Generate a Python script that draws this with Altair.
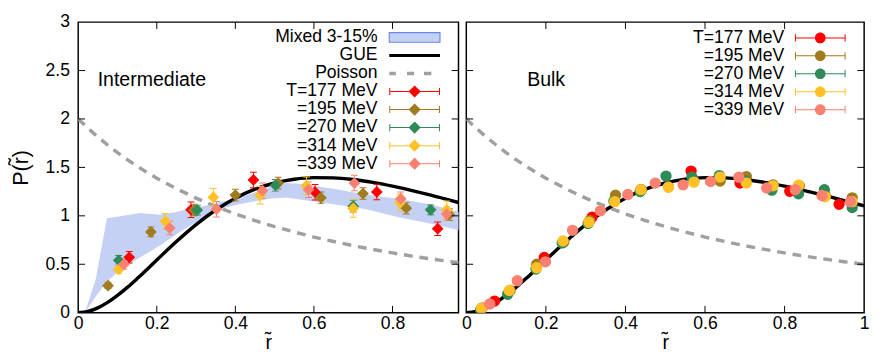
import altair as alt
import pandas as pd

# ---------------- values ----------------
curve_x = [0, 0.025, 0.05, 0.075, 0.1, 0.125, 0.15, 0.175, 0.2, 0.25, 0.3, 0.35, 0.4,
           0.45, 0.5, 0.55, 0.6, 0.65, 0.7, 0.75, 0.8, 0.85, 0.9, 0.95, 1.0]
gue_y = [0, 0.013, 0.050, 0.106, 0.178, 0.261, 0.352, 0.447, 0.544, 0.735, 0.910, 1.060, 1.182,
         1.275, 1.339, 1.378, 1.394, 1.392, 1.375, 1.345, 1.306, 1.261, 1.211, 1.157, 1.103]
poisson_y = [2.0, 1.904, 1.814, 1.731, 1.653, 1.580, 1.512, 1.449, 1.389, 1.280, 1.183, 1.097, 1.020,
             0.951, 0.889, 0.833, 0.781, 0.735, 0.692, 0.653, 0.617, 0.584, 0.554, 0.526, 0.500]

band_x = [0.017, 0.045, 0.073, 0.1, 0.157, 0.207, 0.25, 0.29, 0.33, 0.37, 0.41, 0.45, 0.49,
          0.53, 0.56, 0.65, 0.73, 0.81, 0.895, 0.97]
band_lo = [0.0, 0.17, 0.32, 0.42, 0.57, 0.69, 0.81, 0.91, 1.01, 1.08, 1.12, 1.15, 1.18,
           1.19, 1.17, 1.12, 1.07, 0.99, 0.92, 0.85]
band_hi = [0.0, 0.35, 0.975, 0.99, 1.03, 1.01, 1.04, 1.08, 1.11, 1.15, 1.19, 1.24, 1.30,
           1.34, 1.33, 1.28, 1.22, 1.18, 1.12, 1.04]

series_names = ["T=177 MeV", "=195 MeV", "=270 MeV", "=314 MeV", "=339 MeV"]
series_colors = ["#ff0000", "#a07b1f", "#2e8b57", "#ffc125", "#fa8072"]

# Intermediate (diamonds)
int_x = [
    [0.130, 0.287, 0.446, 0.603, 0.760, 0.915],
    [0.076, 0.185, 0.295, 0.400, 0.509, 0.618, 0.725, 0.835, 0.945],
    [0.103, 0.303, 0.502, 0.700, 0.897],
    [0.103, 0.222, 0.344, 0.463, 0.581, 0.700, 0.819, 0.938],
    [0.116, 0.233, 0.352, 0.469, 0.586, 0.703, 0.821, 0.938],
]
int_y = [
    [0.572, 1.062, 1.371, 1.244, 1.247, 0.867],
    [0.279, 0.834, 1.060, 1.214, 1.338, 1.186, 1.230, 1.079, 1.012],
    [0.541, 1.059, 1.315, 1.100, 1.062],
    [0.447, 0.945, 1.193, 1.213, 1.311, 1.076, 1.136, 1.062],
    [0.498, 0.874, 1.069, 1.260, 1.270, 1.338, 1.176, 1.018],
]
int_err = [
    [0.06, 0.08, 0.08, 0.08, 0.08, 0.07],
    [0.03, 0.05, 0.06, 0.06, 0.06, 0.06, 0.06, 0.06, 0.06],
    [0.05, 0.05, 0.06, 0.06, 0.05],
    [0.04, 0.08, 0.09, 0.09, 0.09, 0.09, 0.09, 0.09],
    [0.05, 0.07, 0.08, 0.08, 0.08, 0.08, 0.07, 0.06],
]

# Bulk (circles)
bulk_x = [
    [0.071, 0.196, 0.316, 0.439, 0.565, 0.688, 0.813, 0.937],
    [0.040, 0.110, 0.177, 0.245, 0.310, 0.375, 0.440, 0.508, 0.572, 0.638, 0.704, 0.771, 0.837, 0.902, 0.970],
    [0.036, 0.104, 0.175, 0.241, 0.306, 0.371, 0.437, 0.502, 0.567, 0.636, 0.700, 0.768, 0.835, 0.900, 0.970],
    [0.038, 0.108, 0.177, 0.243, 0.308, 0.373, 0.439, 0.508, 0.572, 0.638, 0.704, 0.771, 0.835, 0.902, 0.970],
    [0.059, 0.128, 0.199, 0.267, 0.337, 0.406, 0.475, 0.545, 0.614, 0.685, 0.755, 0.827, 0.894, 0.965],
]
bulk_y = [
    [0.12, 0.57, 0.985, 1.27, 1.462, 1.338, 1.254, 1.119],
    [0.05, 0.23, 0.50, 0.73, 0.95, 1.213, 1.27, 1.30, 1.36, 1.36, 1.405, 1.32, 1.31, 1.21, 1.186],
    [0.03, 0.19, 0.45, 0.72, 0.92, 1.15, 1.25, 1.41, 1.40, 1.415, 1.36, 1.265, 1.227, 1.27, 1.086],
    [0.044, 0.229, 0.464, 0.74, 0.934, 1.146, 1.27, 1.294, 1.348, 1.40, 1.338, 1.31, 1.317, 1.197, 1.146],
    [0.09, 0.33, 0.525, 0.85, 1.052, 1.22, 1.338, 1.32, 1.355, 1.398, 1.287, 1.27, 1.21, 1.146],
]
bulk_err = 0.02

x_ticks_left = [0, 0.2, 0.4, 0.6, 0.8]
x_ticks_right = [0, 0.2, 0.4, 0.6, 0.8, 1]
y_ticks = [0, 0.5, 1, 1.5, 2, 2.5, 3]

legend_left = ["Mixed 3-15%", "GUE", "Poisson"] + series_names
legend_left_colors = ["#c4d0f4", "#000000", "#a0a0a0"] + series_colors
BAND_EDGE = "#6a88e6"

# legend key glyphs (custom symbol paths in the unit square)
BAR = "M-1,-0.02L1,-0.02L1,0.02L-1,0.02Z"
CAPS = "M-1,-0.14L-0.96,-0.14L-0.96,0.14L-1,0.14Z M0.96,-0.14L1,-0.14L1,0.14L0.96,0.14Z"
DIAMOND = "M0,-0.24L0.24,0L0,0.24L-0.24,0Z"
CIRCLE = "M0.21,0A0.21,0.21,0,1,1,-0.21,0A0.21,0.21,0,1,1,0.21,0Z"
glyph_mixed = "M-1,-0.19L1,-0.19L1,0.19L-1,0.19Z"
glyph_gue = "M-1,-0.06L1,-0.06L1,0.06L-1,0.06Z"
glyph_poisson = ("M-1,-0.065L-0.74,-0.065L-0.74,0.065L-1,0.065Z "
                 "M-0.3,-0.065L-0.02,-0.065L-0.02,0.065L-0.3,0.065Z "
                 "M0.37,-0.065L0.66,-0.065L0.66,0.065L0.37,0.065Z")
glyph_err_diamond = BAR + " " + CAPS + " " + DIAMOND
glyph_err_circle = BAR + " " + CAPS + " " + CIRCLE

FONT = "Liberation Sans"
H = 298
W_LEFT, W_RIGHT = 390, 408
XMAX_LEFT = 0.968
SYM = 2704


def points_df(xs_list, ys_list, errs_list):
    rows = []
    for name, xs, ys, es in zip(series_names, xs_list, ys_list, errs_list):
        if not isinstance(es, list):
            es = [es] * len(xs)
        for x, y, e in zip(xs, ys, es):
            rows.append({"x": x, "y": y, "lo": y - e, "hi": y + e, "series": name})
    return pd.DataFrame(rows)


curves = pd.DataFrame({"x": curve_x, "gue": gue_y, "poisson": poisson_y})
band = pd.DataFrame({"x": band_x, "lo": band_lo, "hi": band_hi})


def panel(pts, shape, pt_size, width, xmax, xticks, show_y, label_text, label_x,
          legend_names, legend_colors, legend_glyphs, leg_text_px, leg_sym_px,
          leg_first_px, leg_step_px, with_band):
    xs = alt.Scale(domain=[0, xmax], nice=False, zero=False)
    ys = alt.Scale(domain=[0, 3], nice=False, zero=False)
    cs = alt.Scale(domain=legend_names, range=legend_colors)
    x_axis = alt.Axis(values=xticks, format="~g", title="r\u0303", ticks=False, domain=False,
                      grid=False, labelFlush=False, labelPadding=2, titlePadding=1,
                      labelFont=FONT, labelFontSize=18, titleFont=FONT, titleFontSize=20,
                      titleFontWeight="normal", labelColor="black", titleColor="black")
    if show_y:
        y_axis = alt.Axis(values=y_ticks, format="~g", title="P(r\u0303)", ticks=False,
                          domain=False, grid=False, labelFlush=False, labelPadding=9,
                          titlePadding=13, labelFont=FONT, labelFontSize=18, titleFont=FONT,
                          titleFontSize=22, titleFontWeight="normal", labelColor="black",
                          titleColor="black")
    else:
        y_axis = None

    def X(f):
        return alt.X(f, scale=xs, axis=x_axis)

    def Y(f):
        return alt.Y(f, scale=ys, axis=y_axis)

    def F():
        return alt.Fill("series:N", scale=cs, legend=None)

    layers = []
    base_c = alt.Chart(curves)

    if with_band:
        layers.append(alt.Chart(band).mark_area(color="#c4d0f4", opacity=1, clip=True).encode(
            x=X("x:Q"), y=Y("lo:Q"), y2="hi:Q"))
    layers.append(base_c.mark_line(color="#a0a0a0", strokeWidth=3.5, strokeDash=[9, 7],
                                   clip=True).encode(x=X("x:Q"), y=Y("poisson:Q")))
    layers.append(base_c.mark_line(color="black", strokeWidth=3.5, interpolate="monotone",
                                   clip=True).encode(x=X("x:Q"), y=Y("gue:Q")))

    # error bars
    layers.append(alt.Chart(pts).mark_rule(strokeWidth=1, clip=True).encode(
        x=X("x:Q"), y=Y("lo:Q"), y2="hi:Q",
        stroke=alt.Stroke("series:N", scale=cs, legend=None)))
    for end in ["lo", "hi"]:
        layers.append(alt.Chart(pts).mark_tick(orient="horizontal", size=7, thickness=1,
                                               opacity=1, clip=True).encode(
            x=X("x:Q"), y=Y(f"{end}:Q"), fill=F()))
    # points
    layers.append(alt.Chart(pts).mark_point(shape=shape, filled=True, size=pt_size,
                                            opacity=1, clip=True, strokeWidth=0).encode(
        x=X("x:Q"), y=Y("y:Q"), fill=F()))

    # inside tick marks (gnuplot style)
    ytd = pd.DataFrame({"v": [t for t in y_ticks if 0 < t < 3]})
    xtd = pd.DataFrame({"v": [t for t in xticks if 0 < t < xmax]})
    for a, b in [(0, 7), (width - 7, width)]:
        layers.append(alt.Chart(ytd).mark_rule(color="black", strokeWidth=1).encode(
            y=Y("v:Q"), x=alt.value(a), x2=alt.value(b)))
    for a, b in [(H, H - 7), (0, 7)]:
        layers.append(alt.Chart(xtd).mark_rule(color="black", strokeWidth=1).encode(
            x=X("v:Q"), y=alt.value(a), y2=alt.value(b)))

    # panel label
    lab = pd.DataFrame({"x": [label_x], "y": [2.336], "t": [label_text]})
    layers.append(alt.Chart(lab).mark_text(align="left", baseline="alphabetic", font=FONT,
                                           fontSize=20, color="black").encode(
        x=X("x:Q"), y=Y("y:Q"), text="t:N"))

    # key (legend): rows placed through the panel's y scale
    px_per_unit = H / 3.0
    key = pd.DataFrame({
        "series": legend_names,
        "ky": [3 - (leg_first_px + i * leg_step_px) / px_per_unit
               for i in range(len(legend_names))],
    })
    layers.append(alt.Chart(key).mark_text(align="right", baseline="middle", font=FONT,
                                           fontSize=18, color="black").encode(
        x=alt.value(leg_text_px), y=Y("ky:Q"), text="series:N"))
    layers.append(alt.Chart(key).mark_point(filled=True, size=SYM, opacity=1,
                                            strokeWidth=0).encode(
        x=alt.value(leg_sym_px), y=Y("ky:Q"), fill=F(),
        shape=alt.Shape("series:N", scale=alt.Scale(domain=legend_names, range=legend_glyphs),
                        legend=None)))
    if with_band:
        layers.append(alt.Chart(key).transform_filter(
            alt.datum.series == legend_names[0]
        ).mark_point(filled=False, size=SYM, opacity=1, shape=glyph_mixed,
                     color=BAND_EDGE, strokeWidth=1.2).encode(
            x=alt.value(leg_sym_px), y=Y("ky:Q")))

    return alt.layer(*layers).properties(width=width, height=H)


pts_int = points_df(int_x, int_y, int_err)
pts_bulk = points_df(bulk_x, bulk_y, [bulk_err] * 5)

left = panel(pts_int, "diamond", 145, W_LEFT, XMAX_LEFT, x_ticks_left, True, "Intermediate",
             0.0496, legend_left, legend_left_colors,
             [glyph_mixed, glyph_gue, glyph_poisson] + [glyph_err_diamond] * 5,
             307, 345, 15.7, 18.5, True)
right = panel(pts_bulk, "circle", 135, W_RIGHT, 1.0, x_ticks_right, False, "Bulk",
              0.153, series_names, series_colors, [glyph_err_circle] * 5,
              326, 363, 16.2, 18.4, False)

chart = alt.hconcat(left, right, spacing=0).resolve_scale(
    fill="independent", stroke="independent", shape="independent",
    x="independent", y="independent"
).properties(
    padding={"left": 1, "top": 0, "right": 0, "bottom": 0},
    background="white",
).configure_view(stroke="black", strokeWidth=1.5)

chart.save("out.html", embed_options={"renderer": "svg", "actions": False})
